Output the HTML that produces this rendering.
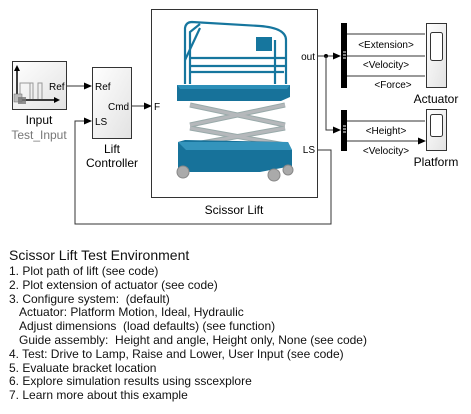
<!DOCTYPE html>
<html><head><meta charset="utf-8"><style>
html,body{margin:0;padding:0;background:#fff;}
body{width:471px;height:414px;overflow:hidden;position:relative;font-family:"Liberation Sans",Arial,sans-serif;}
.t{position:absolute;left:9px;font-size:12px;color:#111;white-space:nowrap;line-height:13.8px;}
</style></head><body>
<svg width="471" height="414" style="position:absolute;left:0;top:0" font-family="Liberation Sans, Arial, sans-serif">
<defs>
<linearGradient id="g" x1="0" y1="0" x2="1" y2="1"><stop offset="0" stop-color="#fff"/><stop offset="1" stop-color="#e2e2e2"/></linearGradient>
<marker id="a" markerWidth="8" markerHeight="8" refX="7" refY="4" orient="auto" markerUnits="userSpaceOnUse"><path d="M0,0.5 L8,4 L0,7.5z" fill="#000"/></marker>
</defs>
<rect x="12.5" y="61.5" width="54" height="48" fill="url(#g)" stroke="#333"/>
<path d="M17,98 V68" stroke="#000" stroke-width="1.5"/><path d="M14,71 L17,65 L20,71z"/>
<path d="M17,100 H56" stroke="#000" stroke-width="1.5"/><path d="M54,97 L60,100 L54,103z"/>
<path d="M20,99 V83 H30 V99 M30,83 H33 V99 M38,99 V83 H42 V99" stroke="#999" fill="none"/>
<rect x="14" y="94" width="8" height="8" fill="#bbb" stroke="#666" stroke-width=".5"/>
<rect x="18" y="97" width="8" height="7" fill="#777" opacity=".8"/>
<text x="49" y="90" font-size="10">Ref</text>
<text x="39" y="124" font-size="12" text-anchor="middle">Input</text>
<text x="39" y="139" font-size="12" text-anchor="middle" fill="#777">Test_Input</text>
<rect x="92.5" y="67.5" width="39" height="71" fill="url(#g)" stroke="#333"/>
<text x="95" y="90" font-size="10">Ref</text>
<text x="95" y="125" font-size="10">LS</text>
<text x="108" y="110" font-size="10">Cmd</text>
<text x="112" y="153" font-size="12" text-anchor="middle">Lift</text>
<text x="112" y="167" font-size="12" text-anchor="middle">Controller</text>
<path d="M67,86 H91" stroke="#333" marker-end="url(#a)"/>
<path d="M132,106 H151" stroke="#333" marker-end="url(#a)"/>
<path d="M318,150 H331 V224 H75 V121 H91" stroke="#333" fill="none" marker-end="url(#a)"/>
<rect x="151.5" y="9.5" width="166" height="188" fill="#fff" stroke="#333"/>
<text x="154" y="110" font-size="10">F</text>
<text x="315" y="60" font-size="10" text-anchor="end">out</text>
<text x="315" y="153" font-size="10" text-anchor="end">LS</text>
<text x="234" y="214" font-size="12" text-anchor="middle">Scissor Lift</text>
<g fill="none" stroke="#16769e" stroke-width="2.2">
<path d="M185,84 V28 Q186,22 192,22 L260,26 Q286,28 286,40 V84"/>
<path d="M190,84 V32 L200,24"/><path d="M185,60 L200,28"/>
<path d="M190,58 H286 M190,66 H286 M190,72 H284"/>
<path d="M275,84 V40"/>
</g>
<rect x="256" y="37" width="16" height="14" fill="#16769e"/>
<path d="M177,85 L290,85 L290,97 L281,101 L177,101z" fill="#17729a"/>
<path d="M177,85 L290,85 L287,89 L180,89z" fill="#2c8fb8"/>
<g stroke="#9aa" stroke-width="5" fill="none" stroke-linejoin="round">
<path d="M190,105 L285,125 M190,125 L285,105"/>
<path d="M190,128 L285,145 M190,145 L285,128"/>
</g>
<g stroke="#b5b8bb" stroke-width="3" fill="none">
<path d="M190,105 L285,125 M190,125 L285,105"/>
<path d="M190,128 L285,145 M190,145 L285,128"/>
</g>
<path d="M178,142 L185,140 L288,142 L292,150 L292,166 L260,172 L190,172 L178,168z" fill="#17729a"/>
<path d="M178,142 L288,142 L292,150 L186,150z" fill="#3494bc"/>
<circle cx="183" cy="172" r="6" fill="#aaa" stroke="#888"/>
<circle cx="274" cy="175" r="6" fill="#aaa" stroke="#888"/>
<circle cx="288" cy="170" r="5" fill="#aaa" stroke="#888"/>
<path d="M318,56 H340" stroke="#333" marker-end="url(#a)"/>
<circle cx="326" cy="56" r="2"/>
<path d="M326,56 V130 H340" stroke="#333" fill="none" marker-end="url(#a)"/>
<rect x="341" y="23" width="6" height="65"/>
<rect x="341" y="110" width="6" height="41"/>
<path d="M343,52 h3 M343,55 h3 M343,58 h3 M343,126 h3 M343,129 h3 M343,132 h3" stroke="#fff"/>
<path d="M347,34 H425 M347,56 H425 M347,76 H425 M347,121 H425 M347,141 H425" stroke="#333" marker-end="url(#a)"/>
<g font-size="10" text-anchor="middle">
<text x="386" y="48">&lt;Extension&gt;</text>
<text x="386" y="68">&lt;Velocity&gt;</text>
<text x="393" y="88">&lt;Force&gt;</text>
<text x="386" y="134">&lt;Height&gt;</text>
<text x="386" y="154">&lt;Velocity&gt;</text>
</g>
<rect x="426.5" y="23.5" width="20" height="64" fill="url(#g)" stroke="#333"/>
<rect x="430.5" y="32.5" width="12" height="28" rx="2" fill="#fff" stroke="#333"/>
<rect x="426.5" y="109.5" width="20" height="41" fill="url(#g)" stroke="#333"/>
<rect x="430.5" y="114.5" width="12" height="22" rx="2" fill="#fff" stroke="#333"/>
<text x="436" y="103" font-size="12" text-anchor="middle">Actuator</text>
<text x="436" y="166" font-size="12" text-anchor="middle">Platform</text>
</svg>
<div class="t" style="top:247px;font-size:14px;line-height:16px;">Scissor Lift Test Environment</div>
<div class="t" style="top:265px;">1. Plot path of lift (see code)<br>2. Plot extension of actuator (see code)<br>3. Configure system:&nbsp; (default)<br>&nbsp;&nbsp;&nbsp;Actuator: Platform Motion, Ideal, Hydraulic<br>&nbsp;&nbsp;&nbsp;Adjust dimensions&nbsp; (load defaults) (see function)<br>&nbsp;&nbsp;&nbsp;Guide assembly:&nbsp; Height and angle, Height only, None (see code)<br>4. Test: Drive to Lamp, Raise and Lower, User Input (see code)<br>5. Evaluate bracket location<br>6. Explore simulation results using sscexplore<br>7. Learn more about this example</div>
</body></html>
